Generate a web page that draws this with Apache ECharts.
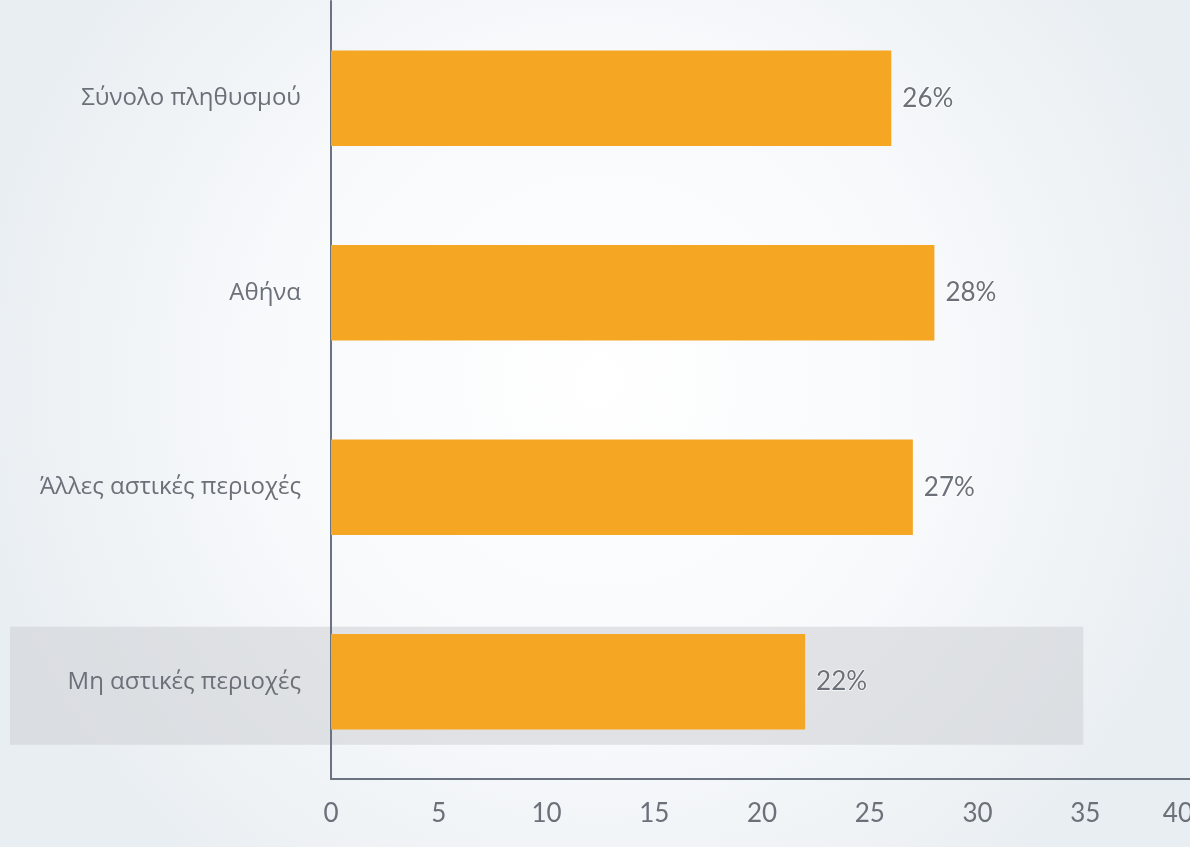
<!DOCTYPE html>
<html>
<head>
<meta charset="utf-8">
<script src="https://cdn.jsdelivr.net/npm/echarts@6/dist/echarts.min.js"></script>
<style>
  html, body { margin: 0; padding: 0; overflow: hidden; }
  #chart { width: 1200px; height: 847px; }
</style>
</head>
<body>
<div id="chart"></div>
<script>
const categories = ["Σύνολο πληθυσμού", "Αθήνα", "Άλλες αστικές περιοχές", "Μη αστικές περιοχές"];
const values = [26, 28, 27, 22];
const highlighted = "Μη αστικές περιοχές";

const NUM_FONT = "Lato, 'Open Sans', sans-serif";
const CAT_FONT = "'Open Sans', 'Noto Sans', sans-serif";
const TEXT = "#6b7079";

const myChart = echarts.init(document.getElementById("chart"));
const option = {
  backgroundColor: new echarts.graphic.RadialGradient(0.5, 0.45, 0.75, [
    { offset: 0, color: "#ffffff" },
    { offset: 0.55, color: "#f7f9fb" },
    { offset: 1, color: "#e9eef2" },
  ]),
  animation: false,
  grid: { left: 331, right: 7, top: 1, bottom: 68, containLabel: false, outerBoundsMode: "none" },
  xAxis: {
    type: "value",
    min: 0,
    max: 40,
    interval: 5,
    splitLine: { show: false },
    axisTick: { show: false },
    axisLine: { show: true, lineStyle: { color: "#6b7280", width: 2 } },
    axisLabel: { color: TEXT, fontSize: 26, fontFamily: NUM_FONT, margin: 22, alignMaxLabel: "right" },
  },
  yAxis: {
    type: "category",
    inverse: true,
    data: categories,
    axisTick: { show: false },
    axisLine: { show: true, lineStyle: { color: "#6b7280", width: 2 } },
    axisLabel: { color: TEXT, fontSize: 24, fontFamily: CAT_FONT, margin: 30 },
  },
  series: [
    {
      type: "bar",
      data: values,
      barWidth: "49%",
      itemStyle: { color: "#f5a623" },
      z: 3,
      label: {
        show: true,
        position: "right",
        distance: 11,
        formatter: "{c}%",
        color: TEXT,
        fontSize: 26,
        fontFamily: NUM_FONT,
        textBorderColor: "rgba(255,255,255,0.8)",
        textBorderWidth: 1.5,
      },
    },
  ],
};
myChart.setOption(option);

// grey highlight band behind the last category, placed from the axis scale
const cy = myChart.convertToPixel({ yAxisIndex: 0 }, highlighted);
const xEnd = myChart.convertToPixel({ xAxisIndex: 0 }, 35);
myChart.setOption({
  graphic: [
    {
      type: "rect",
      z: -1,
      silent: true,
      shape: { x: 10, y: cy - 55, width: xEnd - 12, height: 118 },
      style: { fill: "rgba(205,208,212,0.55)" },
    },
  ],
});
</script>
</body>
</html>
